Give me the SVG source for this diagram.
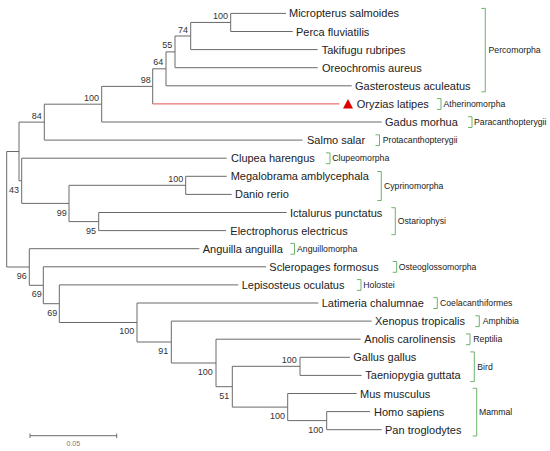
<svg xmlns="http://www.w3.org/2000/svg" width="550" height="451" viewBox="0 0 550 451">
<style>
.br{fill:none;stroke:#6a6a6a;stroke-width:1}
.red{fill:none;stroke:#e45050;stroke-width:1}
.leaf{font-family:"Liberation Sans",Arial,sans-serif;font-size:11px;fill:#222}
.bs{font-family:"Liberation Sans",Arial,sans-serif;font-size:9px;fill:#333;text-anchor:end}
.grp{font-family:"Liberation Sans",Arial,sans-serif;font-size:8.7px;fill:#222}
.bk{fill:none;stroke:#6cb46c;stroke-width:1}
.sc{font-family:"Liberation Sans",Arial,sans-serif;font-size:7px;fill:#777;text-anchor:middle}
</style>
<rect width="550" height="451" fill="#fff"/>
<g id="connectors">
<path class="br" d="M230.7 13.4H286M230.7 31.5H292.7M190.7 49.6H317.7M175 67.7H317.7M166 85.8H351.7M101.7 122H381.7M44.3 140.1H302.5M21.7 158.2H226.7M185.7 176.3H226.7M185.7 194.4H231.7M98.7 212.5H286.7M98.7 230.6H226M29.3 248.7H199.3M43.3 266.8H266M59.3 284.9H238.3M137 303H318.3M171.3 321.1H371.7M216 339.2H360.7M300 357.3H350M300 375.4H361.7M287.7 393.5H356.7M326.7 411.6H370M326.7 429.7H381.7"/>
<path class="br" d="M190.7 22.45H230.7M175 36H190.7M166 51.9H175M152.7 68.8H166M101.7 86.4H152.7M44.3 104.2H101.7M19 122.1H44.3M69 185.3H185.7M69 221.6H98.7M21.7 203.4H69M19 180.8H21.7M6.7 151.5H19M232.3 366.3H300M287.7 420.6H326.7M232.3 407.1H287.7M216 386.7H232.3M171.3 363H216M137 342H171.3M59.3 322.5H137M43.3 303.7H59.3M29.3 285.3H43.3M6.7 267H29.3"/>
<path class="br" d="M230.7 13.4V31.5M190.7 22.45V49.6M175 36V67.7M166 51.9V85.8M152.7 68.8V103.9M101.7 86.4V122M44.3 104.2V140.1M185.7 176.3V194.4M98.7 212.5V230.6M69 185.3V221.6M21.7 158.2V203.4M19 122.1V180.8M6.7 151.5V267M300 357.3V375.4M326.7 411.6V429.7M287.7 393.5V420.6M232.3 366.3V407.1M216 339.2V386.7M171.3 321.1V363M137 303V342M59.3 284.9V322.5M43.3 266.8V303.7M29.3 248.7V285.3"/>
<path class="red" d="M152.7 103.9H339.3"/>
</g>
<g id="bootstrap">
<text class="bs" x="228" y="19">100</text>
<text class="bs" x="188" y="32.5">74</text>
<text class="bs" x="172.3" y="48.3">55</text>
<text class="bs" x="163.3" y="65.3">64</text>
<text class="bs" x="150.7" y="83.3">98</text>
<text class="bs" x="99" y="101">100</text>
<text class="bs" x="41.7" y="119">84</text>
<text class="bs" x="183.3" y="182.3">100</text>
<text class="bs" x="66.7" y="216">99</text>
<text class="bs" x="96" y="234">95</text>
<text class="bs" x="19" y="192.7">43</text>
<text class="bs" x="26.7" y="279">96</text>
<text class="bs" x="41.7" y="297.3">69</text>
<text class="bs" x="57.3" y="315.7">69</text>
<text class="bs" x="134.3" y="334.3">100</text>
<text class="bs" x="168.3" y="354.3">91</text>
<text class="bs" x="212.7" y="375">100</text>
<text class="bs" x="229.3" y="399">51</text>
<text class="bs" x="296.7" y="363.3">100</text>
<text class="bs" x="285" y="419.3">100</text>
<text class="bs" x="323.3" y="432.7">100</text>
</g>
<g id="leaf-micropterus"><text class="leaf" x="289" y="17.4">Micropterus salmoides</text></g>
<g id="leaf-perca"><text class="leaf" x="296" y="35.5">Perca fluviatilis</text></g>
<g id="leaf-takifugu"><text class="leaf" x="321.7" y="53.6">Takifugu rubripes</text></g>
<g id="leaf-oreochromis"><text class="leaf" x="322" y="71.7">Oreochromis aureus</text></g>
<g id="leaf-gasterosteus"><text class="leaf" x="355" y="89.8">Gasterosteus aculeatus</text></g>
<g id="leaf-oryzias"><path d="M348 99L353 108.6H343Z" fill="#e00000"/><text class="leaf" x="356.7" y="107.9">Oryzias latipes</text></g>
<g id="leaf-gadus"><text class="leaf" x="385" y="126">Gadus morhua</text></g>
<g id="leaf-salmo"><text class="leaf" x="307" y="144.1">Salmo salar</text></g>
<g id="leaf-clupea"><text class="leaf" x="231" y="162.2">Clupea harengus</text></g>
<g id="leaf-megalobrama"><text class="leaf" x="230.7" y="180.3">Megalobrama amblycephala</text></g>
<g id="leaf-danio"><text class="leaf" x="235" y="198.4">Danio rerio</text></g>
<g id="leaf-ictalurus"><text class="leaf" x="290" y="216.5">Ictalurus punctatus</text></g>
<g id="leaf-electrophorus"><text class="leaf" x="230.3" y="234.6">Electrophorus electricus</text></g>
<g id="leaf-anguilla"><text class="leaf" x="202.7" y="252.7">Anguilla anguilla</text></g>
<g id="leaf-scleropages"><text class="leaf" x="269.3" y="270.8">Scleropages formosus</text></g>
<g id="leaf-lepisosteus"><text class="leaf" x="241.7" y="288.9">Lepisosteus oculatus</text></g>
<g id="leaf-latimeria"><text class="leaf" x="321.7" y="307">Latimeria chalumnae</text></g>
<g id="leaf-xenopus"><text class="leaf" x="375" y="325.1">Xenopus tropicalis</text></g>
<g id="leaf-anolis"><text class="leaf" x="364.3" y="343.2">Anolis carolinensis</text></g>
<g id="leaf-gallus"><text class="leaf" x="353.3" y="361.3">Gallus gallus</text></g>
<g id="leaf-taeniopygia"><text class="leaf" x="365.3" y="379.4">Taeniopygia guttata</text></g>
<g id="leaf-mus"><text class="leaf" x="360" y="397.5">Mus musculus</text></g>
<g id="leaf-homo"><text class="leaf" x="374" y="415.6">Homo sapiens</text></g>
<g id="leaf-pan"><text class="leaf" x="385" y="433.7">Pan troglodytes</text></g>
<g id="clades">
<path class="bk" d="M481.3 8.4H485.3V91.8H481.3"/><text class="grp" x="488.5" y="53">Percomorpha</text>
<path class="bk" d="M437 98.6H441V109.4H437"/><text class="grp" x="443.5" y="106.9">Atherinomorpha</text>
<path class="bk" d="M468 116.7H472V127.5H468"/><text class="grp" x="474" y="125">Paracanthopterygii</text>
<path class="bk" d="M375.5 134.8H379.5V145.6H375.5"/><text class="grp" x="382.7" y="143.1">Protacanthopterygii</text>
<path class="bk" d="M326 152.9H330V163.7H326"/><text class="grp" x="332.3" y="161.2">Clupeomorpha</text>
<path class="bk" d="M377.3 171.5H381.3V200.5H377.3"/><text class="grp" x="384" y="188.6">Cyprinomorpha</text>
<path class="bk" d="M391.3 207.7H395.3V234.7H391.3"/><text class="grp" x="397.7" y="224">Ostariophysi</text>
<path class="bk" d="M290.5 243.4H294.5V254.2H290.5"/><text class="grp" x="297" y="251.7">Anguillomorpha</text>
<path class="bk" d="M392.7 261.5H396.7V272.3H392.7"/><text class="grp" x="398.7" y="269.8">Osteoglossomorpha</text>
<path class="bk" d="M357 279.6H361V290.4H357"/><text class="grp" x="363.3" y="287.9">Holostei</text>
<path class="bk" d="M433.3 297.7H437.3V308.5H433.3"/><text class="grp" x="440" y="306">Coelacanthiformes</text>
<path class="bk" d="M475.3 315.8H479.3V326.6H475.3"/><text class="grp" x="482.7" y="324.1">Amphibia</text>
<path class="bk" d="M466 333.9H470V344.7H466"/><text class="grp" x="473.3" y="342.2">Reptilia</text>
<path class="bk" d="M470.3 351.9H474.3V381.6H470.3"/><text class="grp" x="477.3" y="369.7">Bird</text>
<path class="bk" d="M472.7 388.3H476.7V436H472.7"/><text class="grp" x="479" y="415.3">Mammal</text>
</g>
<g id="scale">
<path class="br" d="M30 435.7H116.7M30 433.5V438M116.7 433.5V438"/>
<text class="sc" x="73.3" y="446">0.05</text>
</g>
</svg>
